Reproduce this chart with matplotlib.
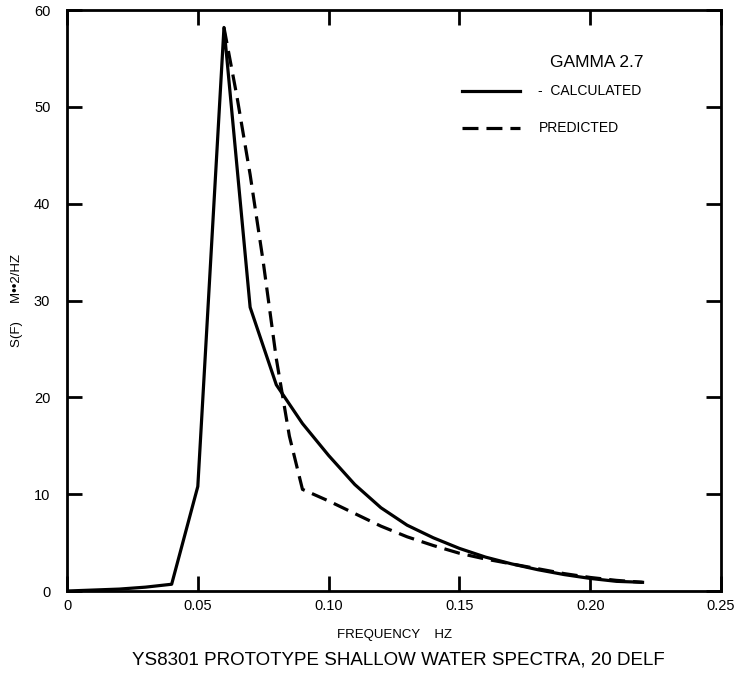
import numpy as np
import matplotlib
matplotlib.use("Agg")
import matplotlib.pyplot as plt

# calculated spectrum (solid)
freq_calc = [0.0, 0.01, 0.02, 0.03, 0.04, 0.05, 0.06, 0.07, 0.08, 0.09, 0.10,
             0.11, 0.12, 0.13, 0.14, 0.15, 0.16, 0.17, 0.18, 0.19, 0.20, 0.21, 0.22]
s_calc = [0.0, 0.1, 0.2, 0.4, 0.7, 10.8, 58.2, 29.3, 21.3, 17.3, 14.0,
          11.0, 8.6, 6.8, 5.5, 4.4, 3.5, 2.8, 2.2, 1.7, 1.3, 1.0, 0.9]

# predicted spectrum (dashed)
freq_pred = [0.06, 0.065, 0.07, 0.075, 0.08, 0.085, 0.09, 0.10, 0.11, 0.12,
             0.13, 0.14, 0.15, 0.16, 0.17, 0.18, 0.19, 0.20, 0.21, 0.22]
s_pred = [58.2, 51.0, 43.0, 34.0, 24.0, 16.0, 10.5, 9.3, 8.0, 6.7,
          5.6, 4.7, 3.9, 3.3, 2.8, 2.3, 1.8, 1.4, 1.1, 0.9]

x_ticks = [0.0, 0.05, 0.10, 0.15, 0.20, 0.25]
x_labels = ["0", "0.05", "0.10", "0.15", "0.20", "0.25"]
y_ticks = [0, 10, 20, 30, 40, 50, 60]

plt.rcParams["font.family"] = ["Liberation Sans", "DejaVu Sans"]

fig = plt.figure(figsize=(7.38, 6.82), dpi=100)
ax = fig.add_axes([0.0908, 0.1334, 0.8862, 0.8519])

ax.plot(freq_calc, s_calc, color="black", linewidth=2.3, label="-  CALCULATED")
ax.plot(freq_pred, s_pred, color="black", linewidth=2.3, linestyle=(0, (5, 2.5)),
        label="PREDICTED")

ax.set_xlim(0, 0.25)
ax.set_ylim(0, 60)
ax.set_xticks(x_ticks)
ax.set_xticklabels(x_labels)
ax.set_yticks(y_ticks)
ax.tick_params(direction="in", length=11, width=2, top=True, right=True,
               labelsize=10.5)
ax.tick_params(axis="x", pad=6)
ax.tick_params(axis="y", pad=12)
for sp in ax.spines.values():
    sp.set_linewidth(2)

ax.set_xlabel("FREQUENCY    HZ", fontsize=9.5, labelpad=11)
ax.set_ylabel("S(F)     M\u2022\u20222/HZ", fontsize=9.5, labelpad=8)
fig.text(0.54, 0.032, "YS8301 PROTOTYPE SHALLOW WATER SPECTRA, 20 DELF",
         ha="center", va="center", fontsize=13.5)

ax.text(0.81, 0.91, "GAMMA 2.7", transform=ax.transAxes, ha="center",
        va="center", fontsize=12.5)
ax.legend(loc="center left", bbox_to_anchor=(0.604, 0.828), borderpad=0,
          borderaxespad=0, frameon=False, handlelength=4.2, handletextpad=1.3,
          labelspacing=1.65, fontsize=10)

fig.savefig("out.png", dpi=100)
